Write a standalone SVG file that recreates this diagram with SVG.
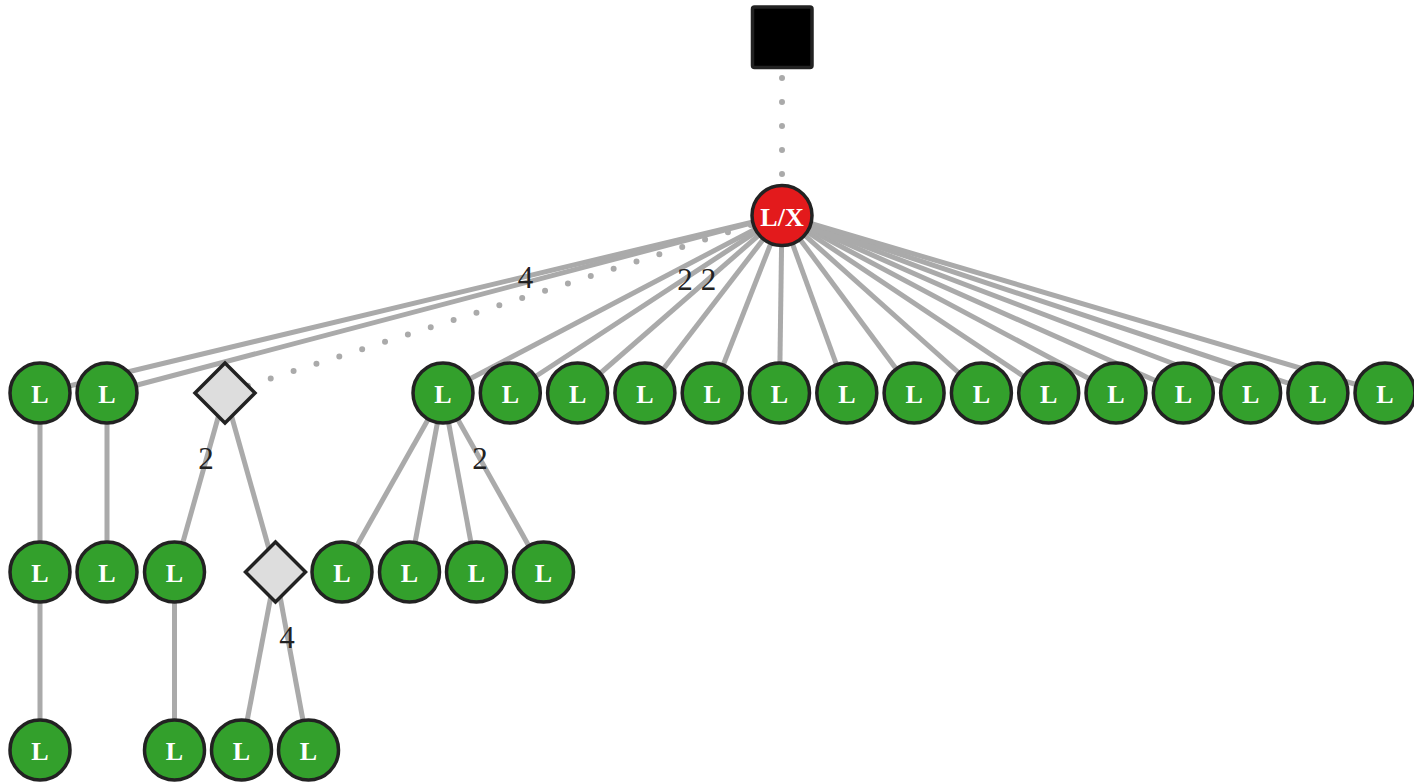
<svg xmlns="http://www.w3.org/2000/svg" width="1414" height="783" viewBox="0 0 1414 783">
<style>
.e{stroke:#aaaaaa;stroke-width:5;fill:none}
.d{stroke:#aaaaaa;stroke-width:6;fill:none;stroke-linecap:round;stroke-dasharray:0 24}
.g{fill:#33a02c;stroke:#222222;stroke-width:3.5}
.r{fill:#e31a1c;stroke:#222222;stroke-width:3.5}
.dm{fill:#dddddd;stroke:#222222;stroke-width:3.5}
.t{fill:#ffffff;font-family:"Liberation Serif",serif;font-weight:bold;font-size:26px;text-anchor:middle}
.lb{fill:#222222;font-family:"Liberation Serif",serif;font-size:31px;text-anchor:middle}
</style>
<defs>
<g id="leaf"><circle class="g" r="30"/><text class="t" y="10">L</text></g>
<polygon id="dia" class="dm" points="0,-30 30,0 0,30 -30,0"/>
</defs>
<g id="connectors">
<line class="d" x1="782" y1="78" x2="782" y2="185"/>
<line class="d" x1="225" y1="393" x2="782" y2="215"/>
<line class="e" x1="782" y1="215" x2="40" y2="393"/>
<line class="e" x1="782" y1="215" x2="107" y2="393"/>
<line class="e" x1="782" y1="215" x2="443" y2="393"/>
<line class="e" x1="782" y1="215" x2="510.3" y2="393"/>
<line class="e" x1="782" y1="215" x2="577.6" y2="393"/>
<line class="e" x1="782" y1="215" x2="644.9" y2="393"/>
<line class="e" x1="782" y1="215" x2="712.2" y2="393"/>
<line class="e" x1="782" y1="215" x2="779.5" y2="393"/>
<line class="e" x1="782" y1="215" x2="846.8" y2="393"/>
<line class="e" x1="782" y1="215" x2="914.1" y2="393"/>
<line class="e" x1="782" y1="215" x2="981.4" y2="393"/>
<line class="e" x1="782" y1="215" x2="1048.7" y2="393"/>
<line class="e" x1="782" y1="215" x2="1116" y2="393"/>
<line class="e" x1="782" y1="215" x2="1183.3" y2="393"/>
<line class="e" x1="782" y1="215" x2="1250.6" y2="393"/>
<line class="e" x1="782" y1="215" x2="1317.9" y2="393"/>
<line class="e" x1="782" y1="215" x2="1385" y2="393"/>
<line class="e" x1="40" y1="393" x2="40" y2="572"/>
<line class="e" x1="107" y1="393" x2="107" y2="572"/>
<line class="e" x1="225" y1="393" x2="174.5" y2="572"/>
<line class="e" x1="225" y1="393" x2="275.5" y2="572"/>
<line class="e" x1="443" y1="393" x2="342" y2="572"/>
<line class="e" x1="443" y1="393" x2="409.5" y2="572"/>
<line class="e" x1="443" y1="393" x2="476.5" y2="572"/>
<line class="e" x1="443" y1="393" x2="543.5" y2="572"/>
<line class="e" x1="40" y1="572" x2="40" y2="750"/>
<line class="e" x1="174.5" y1="572" x2="174.5" y2="750"/>
<line class="e" x1="275.5" y1="572" x2="241.5" y2="750"/>
<line class="e" x1="275.5" y1="572" x2="308.5" y2="750"/>
<text class="lb" x="525.5" y="288">4</text>
<text class="lb" x="685" y="290">2</text>
<text class="lb" x="708.5" y="290">2</text>
<text class="lb" x="206" y="469">2</text>
<text class="lb" x="480" y="469">2</text>
<text class="lb" x="287" y="648">4</text>
</g>
<g id="root"><rect x="752.5" y="7" width="59.5" height="60.5" rx="2" fill="#000000" stroke="#222222" stroke-width="3.5"/></g>
<g id="lx"><circle class="r" cx="782" cy="215.5" r="30"/><text class="t" x="782" y="225.5">L/X</text></g>
<g id="n1"><use href="#leaf" x="40" y="393"/></g>
<g id="n2"><use href="#leaf" x="107" y="393"/></g>
<g id="d1"><use href="#dia" x="225" y="393"/></g>
<g id="n3"><use href="#leaf" x="443" y="393"/></g>
<g id="n4"><use href="#leaf" x="510.3" y="393"/></g>
<g id="n5"><use href="#leaf" x="577.6" y="393"/></g>
<g id="n6"><use href="#leaf" x="644.9" y="393"/></g>
<g id="n7"><use href="#leaf" x="712.2" y="393"/></g>
<g id="n8"><use href="#leaf" x="779.5" y="393"/></g>
<g id="n9"><use href="#leaf" x="846.8" y="393"/></g>
<g id="n10"><use href="#leaf" x="914.1" y="393"/></g>
<g id="n11"><use href="#leaf" x="981.4" y="393"/></g>
<g id="n12"><use href="#leaf" x="1048.7" y="393"/></g>
<g id="n13"><use href="#leaf" x="1116" y="393"/></g>
<g id="n14"><use href="#leaf" x="1183.3" y="393"/></g>
<g id="n15"><use href="#leaf" x="1250.6" y="393"/></g>
<g id="n16"><use href="#leaf" x="1317.9" y="393"/></g>
<g id="n17"><use href="#leaf" x="1385" y="393"/></g>
<g id="n18"><use href="#leaf" x="40" y="572"/></g>
<g id="n19"><use href="#leaf" x="107" y="572"/></g>
<g id="n20"><use href="#leaf" x="174.5" y="572"/></g>
<g id="d2"><use href="#dia" x="275.5" y="572"/></g>
<g id="n21"><use href="#leaf" x="342" y="572"/></g>
<g id="n22"><use href="#leaf" x="409.5" y="572"/></g>
<g id="n23"><use href="#leaf" x="476.5" y="572"/></g>
<g id="n24"><use href="#leaf" x="543.5" y="572"/></g>
<g id="n25"><use href="#leaf" x="40" y="750"/></g>
<g id="n26"><use href="#leaf" x="174.5" y="750"/></g>
<g id="n27"><use href="#leaf" x="241.5" y="750"/></g>
<g id="n28"><use href="#leaf" x="308.5" y="750"/></g>
</svg>
